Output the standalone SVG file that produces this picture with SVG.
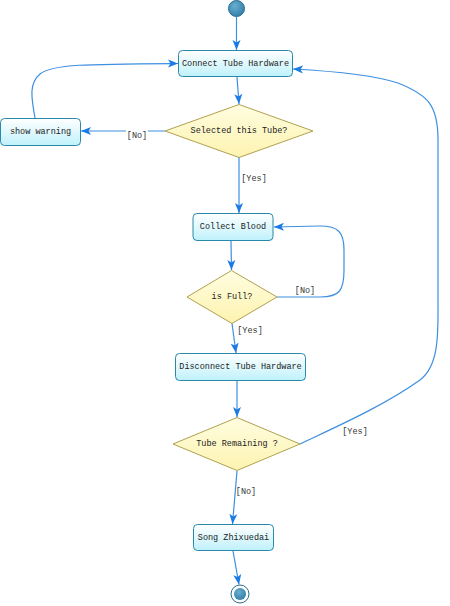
<svg xmlns="http://www.w3.org/2000/svg" width="450" height="606" viewBox="0 0 450 606">
<defs>
<linearGradient id="gNode" x1="0" y1="0" x2="0" y2="1">
<stop offset="0" stop-color="#ffffff"/>
<stop offset="1" stop-color="#bff1fb"/>
</linearGradient>
<linearGradient id="gDec" x1="0" y1="0" x2="0" y2="1">
<stop offset="0" stop-color="#fffde0"/>
<stop offset="1" stop-color="#fdf3b0"/>
</linearGradient>
<radialGradient id="gStart" cx="0.4" cy="0.35" r="0.7">
<stop offset="0" stop-color="#6aaed0"/>
<stop offset="1" stop-color="#2f7ea8"/>
</radialGradient>
<marker id="arr" viewBox="0 0 10 10" refX="10" refY="5" markerWidth="10" markerHeight="10" markerUnits="userSpaceOnUse" orient="auto">
<path d="M0,1 L10,5 L0,9 L2.5,5 Z" fill="#1a7ae6"/>
</marker>
<style>
.node rect{fill:url(#gNode);stroke:#2a88a8;stroke-width:1}
.dec polygon{fill:url(#gDec);stroke:#b0a050;stroke-width:1}
text{font-family:"Liberation Mono","DejaVu Sans Mono",monospace;font-size:8.5px;fill:#222;text-anchor:middle;dominant-baseline:central}
.conn path{fill:none;stroke:#3d8fe0;stroke-width:1.2;marker-end:url(#arr)}
.lbl{fill:#333}
</style>
</defs>
<rect width="450" height="606" fill="#ffffff"/>

<g id="start">
<circle cx="236.5" cy="8.5" r="8" fill="url(#gStart)" stroke="#2a6c90" stroke-width="1"/>
</g>

<g id="connect" class="node">
<rect x="178.5" y="50.5" width="114" height="26" rx="4"/>
<text x="235.5" y="63.5">Connect Tube Hardware</text>
</g>

<g id="selected" class="dec">
<polygon points="239,104.5 313,131 239,157.5 165,131"/>
<text x="239" y="131">Selected this Tube?</text>
</g>

<g id="warning" class="node">
<rect x="0.5" y="118.5" width="80" height="27" rx="4"/>
<text x="40.5" y="132">show warning</text>
</g>

<g id="collect" class="node">
<rect x="193" y="213.5" width="80" height="27" rx="4"/>
<text x="233" y="227">Collect Blood</text>
</g>

<g id="isfull" class="dec">
<polygon points="231.5,270.5 277,297 232,323.5 187,297"/>
<text x="232" y="297">is Full?</text>
</g>

<g id="disconnect" class="node">
<rect x="175.5" y="353.5" width="130" height="27" rx="4"/>
<text x="240.5" y="367">Disconnect Tube Hardware</text>
</g>

<g id="remaining" class="dec">
<polygon points="237,417.5 300,444 237,470.5 173,444"/>
<text x="237" y="444">Tube Remaining ?</text>
</g>

<g id="song" class="node">
<rect x="193.5" y="524.5" width="80" height="26" rx="4"/>
<text x="233.5" y="537.5">Song Zhixuedai</text>
</g>

<g id="end">
<circle cx="240" cy="594" r="9" fill="#ffffff" stroke="#2a6c90" stroke-width="1"/>
<circle cx="240" cy="594" r="6" fill="url(#gStart)"/>
</g>

<g id="connectors" class="conn">
<path d="M236.5,16.5 L236.5,50"/>
<path d="M237,77 L239,104"/>
<path d="M165,131 L81,131"/>
<path d="M35,118 C32,100 28,84 40,74 C52,64 90,64 178,63.5"/>
<path d="M239,157.5 L239,213"/>
<path d="M231,241 L231.5,270"/>
<path d="M277,297 L320,297 C340,297 344,290 344,270 L344,250 C344,232 338,226 320,226 L274,227"/>
<path d="M232,323.5 L236,353"/>
<path d="M237,381 L237,417"/>
<path d="M300,444 C340,425 385,405 420,380 C440,365 438,330 438,300 L438,140 C438,105 428,95 398,83 C370,74 330,71 293,69"/>
<path d="M237,471 L232.5,524"/>
<path d="M233,551 L239,584.5"/>
</g>

<g id="labels">
<rect x="126" y="130" width="22" height="12" fill="#ffffff"/>
<text class="lbl" x="137" y="136">[No]</text>
<text class="lbl" x="254" y="179">[Yes]</text>
<text class="lbl" x="305" y="291">[No]</text>
<text class="lbl" x="250" y="331">[Yes]</text>
<text class="lbl" x="355" y="432">[Yes]</text>
<text class="lbl" x="246" y="492">[No]</text>
</g>
</svg>
